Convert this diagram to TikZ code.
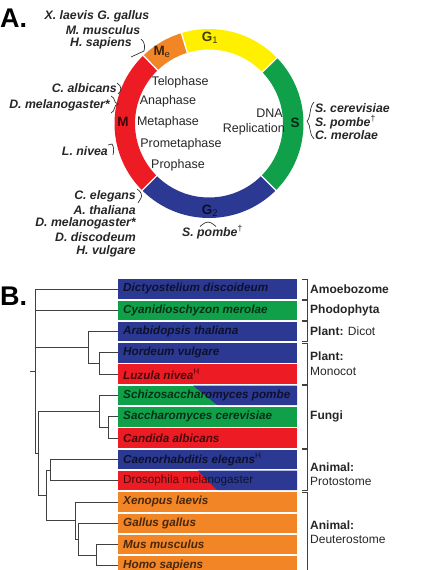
\documentclass[tikz,border=0pt]{standalone}
\usepackage{fontspec}
\setmainfont{Liberation Sans}
\definecolor{cblue}{RGB}{44,57,146}
\definecolor{cgreen}{RGB}{16,160,74}
\definecolor{cred}{RGB}{237,28,36}
\definecolor{corange}{RGB}{242,133,38}
\definecolor{cyellow}{RGB}{255,240,0}
\begin{document}
\begin{tikzpicture}[x=1pt,y=-1pt,
  sp/.style={font=\fontsize{12.3}{13}\selectfont\bfseries\itshape, inner sep=0, text=black!85},
  ph/.style={font=\fontsize{12.5}{13}\selectfont, inner sep=0, text=black!85},
  seg/.style={font=\fontsize{13.5}{13.5}\selectfont\bfseries, inner sep=0, text=black, text opacity=0.75},
  bar/.style={minimum width=179pt, minimum height=19.5pt, inner sep=0, draw=none, anchor=north west},
  bt/.style={font=\fontsize{11.7}{12}\selectfont\bfseries\itshape, inner sep=0, anchor=west, text=black, text opacity=0.7},
  grp/.style={font=\fontsize{12}{14}\selectfont, inner sep=0, anchor=west, align=left, text=black!85},
  tr/.style={draw=black!75, line width=0.8pt},
  brk/.style={draw=black!75, line width=0.8pt},
  sb/.style={draw=black!80, line width=0.7pt},
  big/.style={font=\fontsize{27}{27}\selectfont\bfseries, inner sep=0, anchor=west}
]
\useasboundingbox (0,0) rectangle (423,570);
\clip (0,0) rectangle (423,570);

% ---------------- Part A ----------------
\node[big] (labA) at (0,18) {A.};
\begin{scope}[shift={(209,123.5)}, yscale=-1]
  \fill[cyellow] (44:94.5) arc[start angle=44, end angle=107, radius=94.5] -- (107:74) arc[start angle=107, end angle=44, radius=74] -- cycle;
  \fill[corange] (107:94.5) arc[start angle=107, end angle=134, radius=94.5] -- (134:74) arc[start angle=134, end angle=107, radius=74] -- cycle;
  \fill[cred] (134:94.5) arc[start angle=134, end angle=225, radius=94.5] -- (225:74) arc[start angle=225, end angle=134, radius=74] -- cycle;
  \fill[cblue] (225:94.5) arc[start angle=225, end angle=315, radius=94.5] -- (315:74) arc[start angle=315, end angle=225, radius=74] -- cycle;
  \fill[cgreen] (315:94.5) arc[start angle=315, end angle=404, radius=94.5] -- (404:74) arc[start angle=404, end angle=315, radius=74] -- cycle;
  \foreach \a in {44,107,134,225,315} \draw[white, line width=1.3pt] (\a:72) -- (\a:97);
\end{scope}

\node[seg] (g1) at (210,38) {G\textsubscript{\normalfont 1}};
\node[seg] (me) at (162,52) {M\textsubscript{\normalfont e}};
\node[seg] (mm) at (123,122) {M};
\node[seg] (ss) at (295,123) {S};
\node[seg] (g2) at (210,211) {G\textsubscript{\normalfont 2}};

\node[ph] (telo) at (180,82) {Telophase};
\node[ph] (ana) at (168,101) {Anaphase};
\node[ph] (meta) at (168,122) {Metaphase};
\node[ph] (prometa) at (181,144) {Prometaphase};
\node[ph] (pro) at (178,165) {Prophase};
\node[ph, anchor=east] (dna) at (283,113) {DNA};
\node[ph, anchor=east] (repl) at (285,129) {Replication};

\node[sp] (xl) at (97,16.5) {X. laevis G. gallus};
\node[sp] (mmu) at (103,30) {M. musculus};
\node[sp] (hs) at (101,43.5) {H. sapiens};
\draw[sb] (141,39) .. controls (145,42) and (145,47) .. (144,51) -- (131,57);

\node[sp, anchor=east] (ca) at (117,88) {C. albicans};
\draw[sb] (117,83) .. controls (122,86) and (122,91) .. (118,94);
\node[sp, anchor=east] (dm1) at (110,105) {D. melanogaster*};
\draw[sb] (111,96) .. controls (116,98) and (113,103) .. (118,104) .. controls (113,105) and (116,111) .. (111,113);

\node[sp, anchor=east] (ln) at (108,151) {L. nivea};
\draw[sb] (108,145) -- (112,144) .. controls (114,147) and (114,151) .. (113,155);

\node[sp, anchor=east] (ce) at (136,196) {C. elegans};
\node[sp, anchor=east] (at) at (136,210) {A. thaliana};
\node[sp, anchor=east] (dm2) at (136,223.5) {D. melanogaster*};
\node[sp, anchor=east] (dd) at (136,237) {D. discodeum};
\node[sp, anchor=east] (hv) at (136,251) {H. vulgare};
\draw[sb] (137,189) .. controls (142,192) and (142,196) .. (141,198) -- (138,203);

\node[sp, anchor=west] (sc) at (315,108) {S. cerevisiae};
\node[sp, anchor=west] (sp1) at (315,122) {S. pombe\textsuperscript{\normalfont †}};
\node[sp, anchor=west] (cm) at (315,135) {C. merolae};
\draw[sb] (314,102) .. controls (309,107) and (311,118) .. (307,121) .. controls (311,125) and (309,135) .. (314,139);

\node[sp, anchor=west] (sp2) at (182,232) {S. pombe\textsuperscript{\normalfont †}};
\draw[sb] (200,226.5) .. controls (204,223) and (206,222) .. (208,222) .. controls (210,222) and (212,223) .. (216,226.5);

% ---------------- Part B ----------------
\node[big] (labB) at (0,296) {B.};

\node[bar, fill=cblue]   (r1)  at (118,279.0) {};
\node[bar, fill=cgreen]  (r2)  at (118,300.3) {};
\node[bar, fill=cblue]   (r3)  at (118,321.6) {};
\node[bar, fill=cblue]   (r4)  at (118,342.9) {};
\node[bar, fill=cred]    (r5)  at (118,364.2) {};
\node[bar, fill=cgreen]  (r6)  at (118,385.5) {};
\node[bar, fill=cgreen]  (r7)  at (118,406.8) {};
\node[bar, fill=cred]    (r8)  at (118,428.1) {};
\node[bar, fill=cblue]   (r9)  at (118,449.4) {};
\node[bar, fill=cred]    (r10) at (118,470.7) {};
\node[bar, fill=corange] (r11) at (118,492.0) {};
\node[bar, fill=corange] (r12) at (118,513.3) {};
\node[bar, fill=corange] (r13) at (118,534.6) {};
\node[bar, fill=corange] (r14) at (118,555.9) {};
\fill[cblue] (193,385.5) -- (297,385.5) -- (297,405) -- (217,405) -- cycle;
\fill[cblue] (198,470.7) -- (297,470.7) -- (297,490.2) -- (217,490.2) -- cycle;

\node[bt] at ([xshift=5pt]r1.west) {Dictyostelium discoideum};
\node[bt] at ([xshift=5pt]r2.west) {Cyanidioschyzon merolae};
\node[bt] at ([xshift=5pt]r3.west) {Arabidopsis thaliana};
\node[bt] at ([xshift=5pt]r4.west) {Hordeum vulgare};
\node[bt] at ([xshift=5pt]r5.west) {Luzula nivea\textsuperscript{\normalfont H}};
\node[bt] at ([xshift=5pt]r6.west) {Schizosaccharomyces pombe};
\node[bt] at ([xshift=5pt]r7.west) {Saccharomyces cerevisiae};
\node[bt] at ([xshift=5pt]r8.west) {Candida albicans};
\node[bt] at ([xshift=5pt]r9.west) {Caenorhabditis elegans\textsuperscript{\normalfont H}};
\node[bt, font=\fontsize{11.7}{12}\selectfont] at ([xshift=5pt]r10.west) {Drosophila melanogaster};
\node[bt] at ([xshift=5pt]r11.west) {Xenopus laevis};
\node[bt] at ([xshift=5pt]r12.west) {Gallus gallus};
\node[bt] at ([xshift=5pt]r13.west) {Mus musculus};
\node[bt] at ([xshift=5pt]r14.west) {Homo sapiens};

% tree
\coordinate (root) at (35,371);
\coordinate (stub) at (30,371);
\coordinate (plant) at (88,347.4);
\coordinate (pm) at (99,363.4);
\coordinate (fungi) at (99,411.3);
\coordinate (fs) at (108,427.3);
\coordinate (opis) at (38,453.2);
\coordinate (animal) at (46,495.2);
\coordinate (proto) at (50,469.9);
\coordinate (deut) at (75,520.4);
\coordinate (d2) at (78,539);
\coordinate (d3) at (96,555);

\draw[tr] (stub) -- (root);
\draw[tr] (r1.west) -| (root);
\draw[tr] (r2.west) -| (root);
\draw[tr] (plant) -| (root);
\draw[tr] (opis) -| (root);
\draw[tr] (r3.west) -| (plant);
\draw[tr] (pm) -| (plant);
\draw[tr] (r4.west) -| (pm);
\draw[tr] (r5.west) -| (pm);
\draw[tr] (fungi) -| (opis);
\draw[tr] (animal) -| (opis);
\draw[tr] (r6.west) -| (fungi);
\draw[tr] (fs) -| (fungi);
\draw[tr] (r7.west) -| (fs);
\draw[tr] (r8.west) -| (fs);
\draw[tr] (proto) -| (animal);
\draw[tr] (deut) -| (animal);
\draw[tr] (r9.west) -| (proto);
\draw[tr] (r10.west) -| (proto);
\draw[tr] (r11.west) -| (deut);
\draw[tr] (d2) -| (deut);
\draw[tr] (r12.west) -| (d2);
\draw[tr] (d3) -| (d2);
\draw[tr] (r13.west) -| (d3);
\draw[tr] (r14.west) -| (d3);

% group brackets
\draw[brk] ([xshift=5pt]r1.north east) -| ([xshift=10pt]r1.south east) -- ([xshift=5pt]r1.south east);
\draw[brk] ([xshift=5pt]r2.north east) -| ([xshift=10pt]r2.south east) -- ([xshift=5pt]r2.south east);
\draw[brk] ([xshift=5pt]r3.north east) -| ([xshift=10pt]r3.south east) -- ([xshift=5pt]r3.south east);
\draw[brk] ([xshift=5pt]r4.north east) -| ([xshift=10pt]r5.south east) -- ([xshift=5pt]r5.south east);
\draw[brk] ([xshift=5pt]r6.north east) -| ([xshift=10pt]r8.south east) -- ([xshift=5pt]r8.south east);
\draw[brk] ([xshift=5pt]r9.north east) -| ([xshift=10pt]r10.south east) -- ([xshift=5pt]r10.south east);
\draw[brk] ([xshift=5pt]r11.north east) -| ([xshift=10pt,yshift=-20pt]r14.south east);

\node[grp] (g1l) at (310,288.8) {\textbf{Amoebozome}};
\node[grp] (g2l) at (310,310.1) {\textbf{Phodophyta}};
\node[grp] (g3l) at (310,331.4) {\textbf{Plant:} Dicot};
\node[grp, font=\fontsize{12}{15}\selectfont] (g4l) at (310,363.5) {\textbf{Plant:}\\Monocot};
\node[grp] (g5l) at (310,416.6) {\textbf{Fungi}};
\node[grp] (g6l) at (310,474) {\textbf{Animal:}\\Protostome};
\node[grp] (g7l) at (310,532.5) {\textbf{Animal:}\\Deuterostome};
\end{tikzpicture}
\end{document}
